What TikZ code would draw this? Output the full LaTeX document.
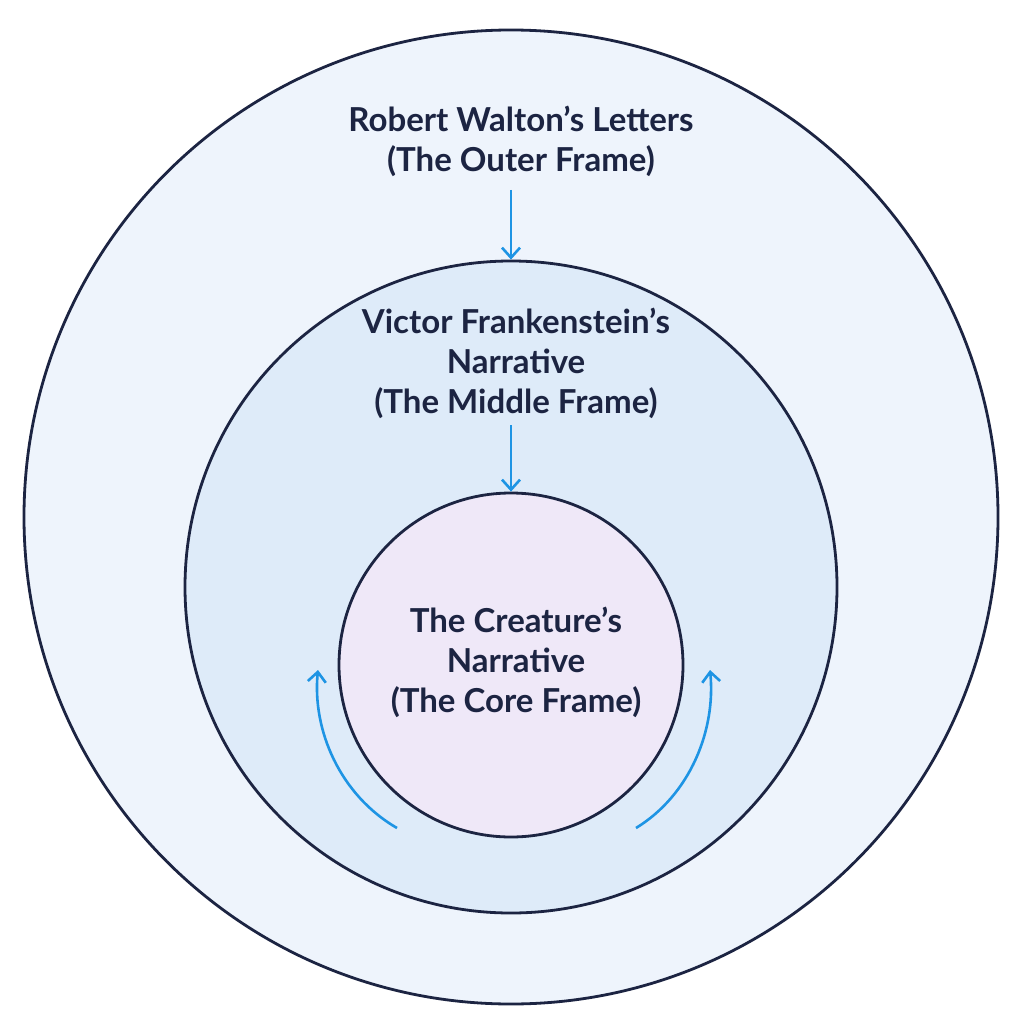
\documentclass[tikz,border=0pt]{standalone}
\usepackage{fontspec}
\setmainfont{Lato}
\usetikzlibrary{arrows.meta}
\definecolor{ink}{RGB}{28,36,66}
\definecolor{arr}{RGB}{30,148,228}
\definecolor{outerf}{RGB}{238,244,252}
\definecolor{midf}{RGB}{222,235,249}
\definecolor{innf}{RGB}{239,232,248}
\newcommand{\apo}{\symbol{39}}
\tikzset{
 ring/.style={circle,draw=ink,line width=2.8pt,inner sep=0pt},
 lbl/.style={text=ink,font=\fontsize{33}{40}\selectfont\bfseries,align=center},
 flow/.style={draw=arr,line width=2.6pt,-{Straight Barb[length=10pt,width=18pt]}}
}
\begin{document}
\begin{tikzpicture}[x=1pt,y=-1pt]
\useasboundingbox[fill=white] (0,0) rectangle (1024,1024);
\node[ring,fill=outerf,minimum size=974pt] (outer) at (511,517) {};
\node[ring,fill=midf,minimum size=652pt] (mid) at (511,587) {};
\node[ring,fill=innf,minimum size=344pt] (inner) at (511,665) {};
\node[lbl] (t1) at (521,141) {Robert Walton\apo s Letters\\(The Outer Frame)};
\node[lbl] (t2) at (516,363) {Victor Frankenstein\apo s\\Narrative\\(The Middle Frame)};
\node[lbl] (t3) at (516,662) {The Creature\apo s\\Narrative\\(The Core Frame)};
\coordinate (a1s) at (511,190);
\coordinate (a2s) at (511,425);
\draw[flow] (a1s) -- (mid.north);
\draw[flow] (a2s) -- (inner.north);
\coordinate (l0) at (397,828); \coordinate (l1) at (318,670);
\coordinate (r0) at (636,828); \coordinate (r1) at (710,670);
\draw[flow] (l0) .. controls (340,795) and (312,730) .. (l1);
\draw[flow] (r0) .. controls (690,795) and (716,730) .. (r1);
\end{tikzpicture}
\end{document}
